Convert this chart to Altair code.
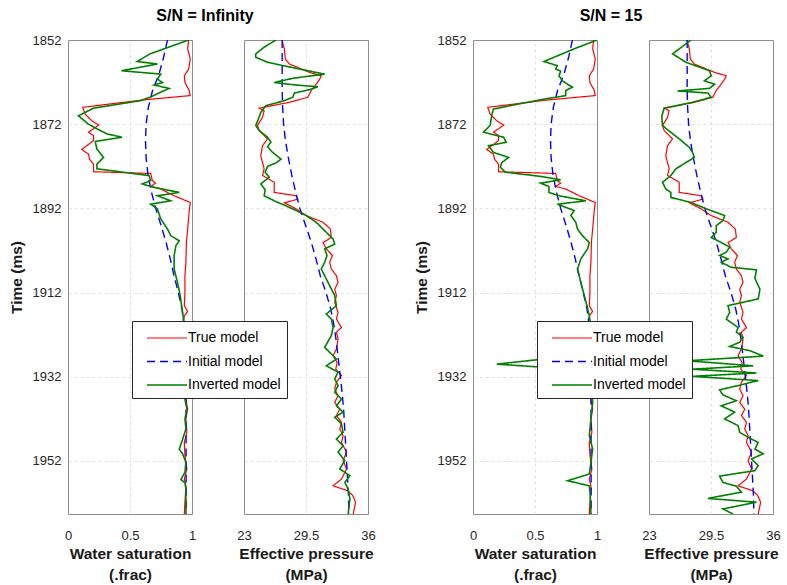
import altair as alt
import pandas as pd

# ---------------- data ----------------
MODELS = ["True model", "Initial model", "Inverted model"]
COLORS = ["#ff0000", "#0000ff", "#008000"]

TRUE_SW_T = [1852.0, 1854.1, 1856.5, 1858.9, 1860.5, 1862.1, 1864.0, 1865.2, 1866.3, 1868.0, 1869.6, 1871.2, 1872.2, 1873.1, 1873.9, 1874.7, 1875.9, 1877.1, 1878.0, 1879.1, 1880.3, 1881.5, 1883.3, 1883.7, 1885.4, 1886.0, 1886.8, 1887.4, 1889.0, 1890.6, 1892.5, 1896.9, 1900.0, 1904.8, 1908.0, 1912.0, 1915.1, 1916.5, 1917.5, 1918.7, 1922.0, 1926.2, 1930.0, 1934.0, 1937.3, 1939.7, 1942.0, 1945.2, 1947.6, 1950.7, 1953.9, 1956.3, 1957.9, 1961.8, 1964.6]
TRUE_SW_V = [0.973, 0.965, 0.986, 0.973, 0.938, 0.943, 0.978, 0.986, 0.585, 0.119, 0.138, 0.192, 0.247, 0.206, 0.165, 0.206, 0.206, 0.152, 0.111, 0.165, 0.173, 0.206, 0.206, 0.667, 0.680, 0.707, 0.667, 0.748, 0.856, 0.986, 0.978, 0.965, 0.955, 0.951, 0.943, 0.943, 0.938, 0.965, 0.938, 0.932, 0.950, 0.943, 0.955, 0.945, 0.951, 0.965, 0.951, 0.959, 0.938, 0.943, 0.959, 0.938, 0.951, 0.943, 0.938]

INIT_SW_T = [1852, 1856, 1860, 1864, 1868, 1872, 1876, 1880, 1884, 1888, 1892, 1896, 1900, 1904, 1908, 1912, 1916, 1920, 1924, 1930, 1940, 1964.6]
INIT_SW_V = [0.802, 0.772, 0.735, 0.682, 0.648, 0.630, 0.625, 0.630, 0.645, 0.672, 0.707, 0.750, 0.790, 0.825, 0.855, 0.890, 0.920, 0.938, 0.946, 0.950, 0.952, 0.953]

TRUE_PE_T = [1852.0, 1854.1, 1856.5, 1857.7, 1859.7, 1860.5, 1861.3, 1862.5, 1864.0, 1865.6, 1866.8, 1868.2, 1868.8, 1870.4, 1872.3, 1873.5, 1874.3, 1875.5, 1877.1, 1879.5, 1881.1, 1882.6, 1884.2, 1885.8, 1888.2, 1889.0, 1889.8, 1890.7, 1892.1, 1893.7, 1895.3, 1896.9, 1898.9, 1900.1, 1901.6, 1903.2, 1904.8, 1906.4, 1908.0, 1909.6, 1911.2, 1912.7, 1914.3, 1916.7, 1918.3, 1920.3, 1921.4, 1923.0, 1925.4, 1927.0, 1928.6, 1930.2, 1931.7, 1933.3, 1934.9, 1936.5, 1938.1, 1939.7, 1941.2, 1942.8, 1944.4, 1946.0, 1947.6, 1949.9, 1951.9, 1953.9, 1956.3, 1957.9, 1959.1, 1960.2, 1961.8, 1964.6]
TRUE_PE_V = [26.98, 27.23, 27.33, 27.76, 29.87, 31.10, 30.93, 30.57, 30.05, 29.69, 27.76, 24.59, 25.11, 24.94, 24.41, 24.59, 24.94, 25.47, 24.94, 24.76, 24.94, 25.11, 24.94, 26.17, 26.17, 28.46, 28.64, 27.23, 28.46, 29.52, 31.28, 32.05, 32.16, 31.28, 31.63, 32.27, 31.98, 32.16, 32.69, 32.86, 32.51, 32.69, 32.51, 32.86, 32.69, 33.22, 32.69, 32.86, 32.69, 32.34, 32.76, 32.62, 33.22, 32.69, 32.51, 32.86, 32.51, 33.04, 32.69, 33.22, 33.04, 33.39, 33.22, 33.75, 33.39, 33.75, 33.22, 32.34, 33.90, 34.40, 34.70, 34.45]

INIT_PE_T = [1852, 1856, 1860, 1864, 1868, 1872, 1876, 1880, 1884, 1888, 1892, 1896, 1900, 1904, 1908, 1912, 1916, 1920, 1924, 1928, 1932, 1936, 1940, 1944, 1948, 1952, 1956, 1960, 1964.6]
INIT_PE_V = [27.0, 27.0, 27.0, 27.0, 27.05, 27.15, 27.35, 27.65, 28.0, 28.4, 28.85, 29.45, 30.05, 30.55, 31.0, 31.6, 32.1, 32.45, 32.7, 32.9, 33.1, 33.3, 33.45, 33.55, 33.65, 33.75, 33.85, 33.95, 34.0]

INV_SW_INF_T = [1852.0, 1855.3, 1857.1, 1857.7, 1859.3, 1860.1, 1861.3, 1862.1, 1862.7, 1863.5, 1864.4, 1865.6, 1866.4, 1868.2, 1870.0, 1872.0, 1873.1, 1874.3, 1875.1, 1876.1, 1877.9, 1879.9, 1881.5, 1882.6, 1884.2, 1885.4, 1886.2, 1887.0, 1888.2, 1889.0, 1890.2, 1891.0, 1892.1, 1894.5, 1896.9, 1898.5, 1899.7, 1900.9, 1903.2, 1906.4, 1909.6, 1912.7, 1915.1, 1918.3, 1926.2, 1937.3, 1939.7, 1942.0, 1944.4, 1947.6, 1949.2, 1950.3, 1952.3, 1954.7, 1956.4, 1957.2, 1958.7, 1961.8, 1964.6]
INV_SW_INF_V = [0.973, 0.661, 0.558, 0.721, 0.431, 0.748, 0.721, 0.762, 0.694, 0.816, 0.748, 0.661, 0.585, 0.206, 0.084, 0.165, 0.233, 0.314, 0.436, 0.220, 0.233, 0.287, 0.233, 0.233, 0.653, 0.667, 0.599, 0.694, 0.897, 0.721, 0.829, 0.667, 0.721, 0.748, 0.802, 0.829, 0.897, 0.870, 0.856, 0.856, 0.883, 0.905, 0.916, 0.932, 0.938, 0.943, 0.959, 0.943, 0.951, 0.916, 0.897, 0.924, 0.951, 0.943, 0.911, 0.943, 0.951, 0.951, 0.951]

INV_PE_INF_T = [1852.0, 1853.7, 1855.3, 1856.1, 1857.3, 1858.9, 1860.1, 1861.1, 1862.1, 1862.7, 1863.1, 1863.8, 1864.6, 1865.6, 1866.4, 1867.6, 1869.2, 1870.8, 1872.3, 1873.5, 1875.1, 1876.3, 1877.3, 1878.7, 1880.3, 1881.2, 1882.0, 1883.4, 1884.6, 1886.2, 1887.6, 1889.0, 1890.2, 1891.4, 1892.5, 1893.7, 1895.3, 1897.3, 1899.3, 1900.5, 1901.6, 1903.2, 1904.8, 1906.4, 1909.6, 1912.7, 1915.1, 1917.1, 1918.3, 1920.3, 1922.2, 1925.0, 1926.6, 1927.8, 1929.4, 1930.9, 1932.5, 1934.1, 1935.7, 1937.3, 1938.9, 1940.4, 1941.6, 1943.2, 1945.2, 1946.8, 1948.4, 1949.9, 1951.9, 1953.9, 1955.5, 1957.1, 1958.7, 1961.0, 1964.6]
INV_PE_INF_V = [26.35, 25.11, 24.23, 24.23, 25.47, 28.81, 31.46, 28.11, 26.17, 28.46, 30.75, 29.87, 28.28, 28.11, 27.23, 25.29, 24.76, 24.51, 24.23, 24.59, 25.47, 25.82, 25.47, 26.0, 26.88, 26.35, 25.47, 25.22, 25.64, 24.76, 25.22, 25.11, 26.17, 27.40, 28.46, 29.52, 30.57, 31.46, 32.34, 32.51, 31.46, 31.70, 31.46, 31.10, 31.81, 32.51, 32.69, 31.63, 32.16, 32.34, 32.16, 31.46, 32.16, 32.69, 31.63, 32.86, 32.51, 32.86, 32.51, 33.22, 32.69, 33.39, 32.51, 33.22, 33.39, 32.69, 33.39, 32.86, 33.57, 33.04, 34.10, 33.57, 33.92, 34.10, 33.92]

INV_SW_15_T = [1852.0, 1854.1, 1857.1, 1858.1, 1858.9, 1859.4, 1860.5, 1861.7, 1862.5, 1863.2, 1864.0, 1865.2, 1866.2, 1867.2, 1868.4, 1869.8, 1872.3, 1873.9, 1875.1, 1876.3, 1877.1, 1878.7, 1879.9, 1881.1, 1882.2, 1883.4, 1884.4, 1885.2, 1886.0, 1886.8, 1888.2, 1889.0, 1890.2, 1891.0, 1892.5, 1893.7, 1895.3, 1896.9, 1898.5, 1900.1, 1901.6, 1904.0, 1906.4, 1909.6, 1912.7, 1915.1, 1917.5, 1919.1, 1923.0, 1926.6, 1929.0, 1930.5, 1934.0, 1938.1, 1942.0, 1946.0, 1949.2, 1952.3, 1955.1, 1956.7, 1957.9, 1960.2, 1964.6]
INV_SW_15_V = [1.0, 0.816, 0.572, 0.680, 0.667, 0.707, 0.694, 0.721, 0.762, 0.802, 0.748, 0.748, 0.545, 0.369, 0.165, 0.152, 0.138, 0.084, 0.247, 0.268, 0.125, 0.165, 0.287, 0.233, 0.220, 0.260, 0.545, 0.707, 0.545, 0.612, 0.612, 0.694, 0.911, 0.680, 0.816, 0.789, 0.829, 0.843, 0.883, 0.938, 0.924, 0.870, 0.843, 0.870, 0.897, 0.919, 0.938, 0.946, 0.950, 0.938, 0.192, 0.951, 0.955, 0.965, 0.951, 0.938, 0.965, 0.951, 0.938, 0.762, 0.938, 0.946, 0.951]

INV_PE_15_T = [1852.0, 1855.3, 1857.3, 1859.3, 1860.5, 1861.7, 1862.5, 1863.5, 1864.1, 1864.6, 1865.6, 1866.8, 1868.2, 1870.1, 1872.3, 1873.3, 1875.5, 1877.5, 1878.8, 1879.9, 1881.1, 1882.6, 1884.2, 1885.8, 1887.4, 1888.2, 1889.4, 1890.6, 1892.1, 1893.7, 1894.9, 1896.1, 1897.7, 1898.9, 1900.1, 1901.2, 1902.4, 1903.2, 1904.0, 1904.8, 1906.0, 1906.6, 1908.6, 1911.2, 1913.5, 1915.1, 1916.7, 1918.3, 1920.3, 1921.4, 1922.6, 1923.8, 1924.8, 1925.8, 1927.1, 1928.2, 1929.4, 1930.2, 1931.1, 1931.9, 1932.9, 1934.0, 1935.1, 1936.3, 1937.7, 1938.9, 1940.4, 1942.0, 1943.6, 1945.2, 1946.4, 1947.6, 1949.2, 1950.3, 1951.5, 1953.1, 1954.3, 1955.6, 1957.1, 1958.0, 1959.4, 1960.9, 1961.8, 1963.4, 1964.6]
INV_PE_15_V = [27.40, 25.47, 26.88, 29.34, 29.52, 28.81, 29.87, 29.34, 25.99, 29.17, 29.52, 27.58, 24.59, 24.34, 24.41, 24.94, 26.17, 27.23, 27.58, 27.76, 26.88, 25.82, 25.29, 24.41, 24.76, 25.29, 25.29, 27.40, 28.99, 30.93, 30.75, 30.05, 30.05, 29.52, 30.57, 31.46, 31.10, 30.40, 31.28, 30.57, 31.63, 34.27, 34.10, 34.63, 34.45, 31.28, 31.46, 31.10, 32.34, 32.16, 32.86, 32.51, 31.46, 33.57, 34.98, 27.0, 33.92, 27.5, 34.27, 27.5, 34.45, 32.51, 30.40, 30.75, 32.16, 30.57, 31.98, 30.93, 32.34, 32.51, 33.39, 34.45, 34.10, 34.98, 33.75, 34.45, 34.10, 30.40, 30.75, 32.16, 32.69, 29.17, 34.27, 30.75, 31.80]

Y_TICKS = [1852, 1872, 1892, 1912, 1932, 1952]
T_DOMAIN = [1852, 1964.6]
SW_DOMAIN, SW_TICKS = [0, 1], [0, 0.5, 1]
PE_DOMAIN, PE_TICKS = [23, 36], [23, 29.5, 36]
GROUP_TITLES = ["S/N = Infinity", "S/N = 15"]
SW_TITLE = ["Water saturation", "(.frac)"]
PE_TITLE = ["Effective pressure", "(MPa)"]

FONT = "Liberation Sans"
PANEL_W, PANEL_H = 124, 474
NBSP_PAD = "\u00a0" * 4


def frame(series):
    rows = []
    for model, ts, vs in series:
        assert len(ts) == len(vs), model
        rows += [{"model": model, "t": t, "v": v} for t, v in zip(ts, vs)]
    return pd.DataFrame(rows)


def panel(df, xdomain, xticks, xtitle, show_y, show_legend, title=None, title_dx=0):
    lo, hi = xdomain
    if show_legend:
        leg = alt.Legend(
            title=None, orient="none", legendX=-112, legendY=281,
            direction="vertical", fillColor="white", strokeColor="#262626",
            padding=6, symbolType="M-2,0L2,0", symbolSize=400, symbolOffset=18,
            symbolStrokeWidth=1.6, labelFontSize=14, labelColor="#000000",
            labelFont=FONT, rowPadding=5.5, labelOffset=10,
            labelExpr="datum.label + '" + NBSP_PAD + "'",
        )
    else:
        leg = None
    xaxis = alt.Axis(
        values=xticks, title=xtitle, labelExpr="datum.value + ''",
        labelFlush=False, labelOverlap=False, ticks=False, domain=False,
        labelPadding=15, titlePadding=4,
        gridOpacity={"condition": {"test": f"datum.value > {lo} && datum.value < {hi}", "value": 1}, "value": 0},
    )
    if show_y:
        yaxis = alt.Axis(
            values=Y_TICKS, title="Time (ms)", labelExpr="datum.value + ''",
            ticks=False, domain=False, labelPadding=7, titlePadding=8,
            gridOpacity={"condition": {"test": "datum.value > 1852", "value": 1}, "value": 0},
        )
    else:
        yaxis = alt.Axis(
            values=Y_TICKS, title=None, labels=False, ticks=False, domain=False,
            gridOpacity={"condition": {"test": "datum.value > 1852", "value": 1}, "value": 0},
        )
    props = dict(width=PANEL_W, height=PANEL_H)
    if title:
        props["title"] = alt.TitleParams(
            title, fontSize=16, fontWeight="bold", anchor="middle", frame="group",
            dx=title_dx, offset=10, color="#000000", font=FONT,
        )
    return alt.Chart(df).mark_line(clip=True).encode(
        x=alt.X("v:Q", scale=alt.Scale(domain=xdomain, nice=False, zero=False), axis=xaxis),
        y=alt.Y("t:Q", scale=alt.Scale(domain=T_DOMAIN, reverse=True, nice=False, zero=False), axis=yaxis),
        color=alt.Color("model:N", scale=alt.Scale(domain=MODELS, range=COLORS), legend=leg, sort=MODELS),
        strokeDash=alt.StrokeDash("model:N", scale=alt.Scale(domain=MODELS, range=[[1, 0], [8, 5], [1, 0]]), legend=leg, sort=MODELS),
        strokeWidth=alt.StrokeWidth("model:N", scale=alt.Scale(domain=MODELS, range=[1.2, 1.6, 1.6]), legend=None),
        order=alt.Order("t:Q"),
    ).properties(**props)


sw_inf = frame([(MODELS[0], TRUE_SW_T, TRUE_SW_V), (MODELS[1], INIT_SW_T, INIT_SW_V), (MODELS[2], INV_SW_INF_T, INV_SW_INF_V)])
pe_inf = frame([(MODELS[0], TRUE_PE_T, TRUE_PE_V), (MODELS[1], INIT_PE_T, INIT_PE_V), (MODELS[2], INV_PE_INF_T, INV_PE_INF_V)])
sw_15 = frame([(MODELS[0], TRUE_SW_T, TRUE_SW_V), (MODELS[1], INIT_SW_T, INIT_SW_V), (MODELS[2], INV_SW_15_T, INV_SW_15_V)])
pe_15 = frame([(MODELS[0], TRUE_PE_T, TRUE_PE_V), (MODELS[1], INIT_PE_T, INIT_PE_V), (MODELS[2], INV_PE_15_T, INV_PE_15_V)])

# empty, invisible 1-px-wide column that separates the two S/N groups
spacer = alt.Chart(pd.DataFrame({"s": [0]})).mark_point(opacity=0).encode(
    x=alt.X("s:Q", axis=None), y=alt.Y("s:Q", axis=None),
).properties(width=1, height=PANEL_H, view=alt.ViewBackground(strokeOpacity=0))

p1 = panel(sw_inf, SW_DOMAIN, SW_TICKS, SW_TITLE, True, False, GROUP_TITLES[0], 75)
p2 = panel(pe_inf, PE_DOMAIN, PE_TICKS, PE_TITLE, False, True)
p3 = panel(sw_15, SW_DOMAIN, SW_TICKS, SW_TITLE, True, False, GROUP_TITLES[1], 76)
p4 = panel(pe_15, PE_DOMAIN, PE_TICKS, PE_TITLE, False, True)

RES = dict(color="independent", strokeDash="independent", strokeWidth="independent")

chart = alt.hconcat(p1, p2, spacer, p3, p4, spacing=52, bounds="flush").resolve_legend(**RES).properties(
    padding={"left": 8, "top": 7, "right": 5, "bottom": 3},
    background="white",
).configure_view(
    stroke="#8c8c8c", strokeWidth=1,
).configure_axis(
    labelFont=FONT, titleFont=FONT, labelFontSize=13, labelColor="#262626",
    titleFontSize=15.5, titleFontWeight="bold", titleColor="#1a1a1a",
    gridColor="#d9d9d9", gridDash=[3, 3], gridWidth=0.8, titleLineHeight=21,
)

chart.save("out.html", embed_options={"renderer": "svg", "actions": False})
